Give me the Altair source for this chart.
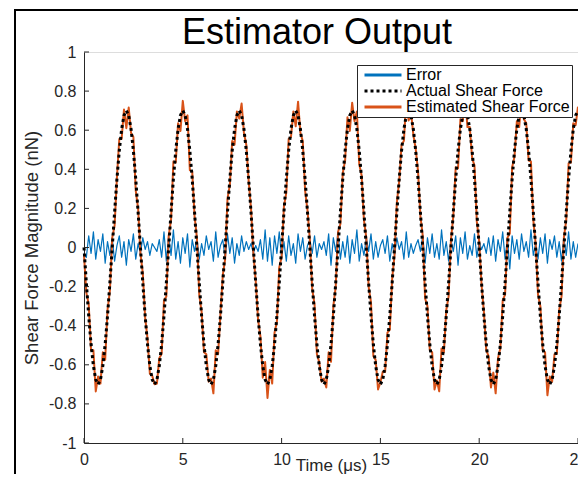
import altair as alt
import pandas as pd

# ---- data ----
time_us = [
    0.000, 0.119, 0.238, 0.357, 0.476, 0.595, 0.714, 0.833, 0.952, 1.071, 1.190, 1.310,
    1.429, 1.548, 1.667, 1.786, 1.905, 2.024, 2.143, 2.262, 2.381, 2.500, 2.619, 2.738,
    2.857, 2.976, 3.095, 3.214, 3.333, 3.452, 3.571, 3.690, 3.810, 3.929, 4.048, 4.167,
    4.286, 4.405, 4.524, 4.643, 4.762, 4.881, 5.000, 5.119, 5.238, 5.357, 5.476, 5.595,
    5.714, 5.833, 5.952, 6.071, 6.190, 6.310, 6.429, 6.548, 6.667, 6.786, 6.905, 7.024,
    7.143, 7.262, 7.381, 7.500, 7.619, 7.738, 7.857, 7.976, 8.095, 8.214, 8.333, 8.452,
    8.571, 8.690, 8.810, 8.929, 9.048, 9.167, 9.286, 9.405, 9.524, 9.643, 9.762, 9.881,
    10.000, 10.119, 10.238, 10.357, 10.476, 10.595, 10.714, 10.833, 10.952, 11.071, 11.190, 11.310,
    11.429, 11.548, 11.667, 11.786, 11.905, 12.024, 12.143, 12.262, 12.381, 12.500, 12.619, 12.738,
    12.857, 12.976, 13.095, 13.214, 13.333, 13.452, 13.571, 13.690, 13.810, 13.929, 14.048, 14.167,
    14.286, 14.405, 14.524, 14.643, 14.762, 14.881, 15.000, 15.119, 15.238, 15.357, 15.476, 15.595,
    15.714, 15.833, 15.952, 16.071, 16.190, 16.310, 16.429, 16.548, 16.667, 16.786, 16.905, 17.024,
    17.143, 17.262, 17.381, 17.500, 17.619, 17.738, 17.857, 17.976, 18.095, 18.214, 18.333, 18.452,
    18.571, 18.690, 18.810, 18.929, 19.048, 19.167, 19.286, 19.405, 19.524, 19.643, 19.762, 19.881,
    20.000, 20.119, 20.238, 20.357, 20.476, 20.595, 20.714, 20.833, 20.952, 21.071, 21.190, 21.310,
    21.429, 21.548, 21.667, 21.786, 21.905, 22.024, 22.143, 22.262, 22.381, 22.500, 22.619, 22.738,
    22.857, 22.976, 23.095, 23.214, 23.333, 23.452, 23.571, 23.690, 23.810, 23.929, 24.048, 24.167,
    24.286, 24.405, 24.524, 24.643, 24.762, 24.881, 25.000,
]

actual_force = [
    0, -0.181, -0.35, -0.495, -0.606, -0.676, -0.7, -0.676, -0.606, -0.495, -0.35, -0.181,
    0, 0.181, 0.35, 0.495, 0.606, 0.676, 0.7, 0.676, 0.606, 0.495, 0.35, 0.181,
    0, -0.181, -0.35, -0.495, -0.606, -0.676, -0.7, -0.676, -0.606, -0.495, -0.35, -0.181,
    0, 0.181, 0.35, 0.495, 0.606, 0.676, 0.7, 0.676, 0.606, 0.495, 0.35, 0.181,
    0, -0.181, -0.35, -0.495, -0.606, -0.676, -0.7, -0.676, -0.606, -0.495, -0.35, -0.181,
    0, 0.181, 0.35, 0.495, 0.606, 0.676, 0.7, 0.676, 0.606, 0.495, 0.35, 0.181,
    0, -0.181, -0.35, -0.495, -0.606, -0.676, -0.7, -0.676, -0.606, -0.495, -0.35, -0.181,
    0, 0.181, 0.35, 0.495, 0.606, 0.676, 0.7, 0.676, 0.606, 0.495, 0.35, 0.181,
    0, -0.181, -0.35, -0.495, -0.606, -0.676, -0.7, -0.676, -0.606, -0.495, -0.35, -0.181,
    0, 0.181, 0.35, 0.495, 0.606, 0.676, 0.7, 0.676, 0.606, 0.495, 0.35, 0.181,
    0, -0.181, -0.35, -0.495, -0.606, -0.676, -0.7, -0.676, -0.606, -0.495, -0.35, -0.181,
    0, 0.181, 0.35, 0.495, 0.606, 0.676, 0.7, 0.676, 0.606, 0.495, 0.35, 0.181,
    0, -0.181, -0.35, -0.495, -0.606, -0.676, -0.7, -0.676, -0.606, -0.495, -0.35, -0.181,
    0, 0.181, 0.35, 0.495, 0.606, 0.676, 0.7, 0.676, 0.606, 0.495, 0.35, 0.181,
    0, -0.181, -0.35, -0.495, -0.606, -0.676, -0.7, -0.676, -0.606, -0.495, -0.35, -0.181,
    0, 0.181, 0.35, 0.495, 0.606, 0.676, 0.7, 0.676, 0.606, 0.495, 0.35, 0.181,
    0, -0.181, -0.35, -0.495, -0.606, -0.676, -0.7, -0.676, -0.606, -0.495, -0.35, -0.181,
    0, 0.181, 0.35, 0.495, 0.606, 0.676, 0.7,
]

error_force = [
    -0.04, -0.05, 0.06, -0.03, 0.08, -0.06, 0.04, -0.02, 0.07, -0.08, 0.03, -0.04,
    0.05, -0.07, 0.01, 0.06, -0.05, 0.03, -0.09, 0.04, -0.02, 0.07, -0.06, 0.02,
    -0.03, 0.05, -0.01, 0.03, -0.04, 0.02, 0.00, -0.02, 0.04, -0.05, 0.08, -0.07,
    0.06, -0.04, 0.09, -0.06, 0.03, -0.08, 0.05, -0.03, 0.07, -0.10, 0.04, -0.02,
    0.05, -0.06, 0.02, -0.04, 0.06, -0.01, 0.03, -0.07, 0.08, -0.05, 0.01, 0.04,
    -0.06, 0.07, -0.03, 0.05, -0.08, 0.02, -0.04, 0.06, -0.02, 0.03, -0.01, 0.02,
    -0.03, 0.01, -0.02, 0.04, -0.06, 0.09, -0.07, 0.05, -0.09, 0.06, -0.03, 0.08,
    -0.05, 0.03, -0.07, 0.06, -0.04, 0.02, -0.08, 0.07, -0.02, 0.05, -0.06, 0.01,
    0.04, -0.03, 0.06, -0.05, 0.02, -0.01, 0.03, -0.04, 0.07, -0.09, 0.05, -0.02,
    0.08, -0.06, 0.03, -0.05, 0.06, -0.08, 0.04, -0.03, 0.09, -0.07, 0.02, -0.04,
    0.05, -0.02, 0.07, -0.06, 0.03, -0.05, 0.01, 0.04, -0.03, 0.06, -0.07, 0.02,
    -0.04, 0.05, -0.01, 0.03, -0.06, 0.08, -0.05, 0.02, -0.03, 0.01, 0.04, -0.02,
    0.06, -0.08, 0.05, -0.03, 0.07, -0.05, 0.02, -0.06, 0.09, -0.04, 0.03, -0.07,
    0.04, -0.02, 0.06, -0.09, 0.05, -0.03, 0.08, -0.06, 0.01, -0.04, 0.07, -0.05,
    0.03, -0.01, 0.02, -0.03, 0.05, -0.04, 0.06, -0.07, 0.04, -0.02, 0.08, -0.06,
    0.05, -0.11, 0.06, -0.03, 0.04, -0.06, 0.07, -0.02, 0.03, -0.05, 0.09, -0.04,
    0.02, -0.06, 0.05, -0.03, 0.07, -0.08, 0.04, -0.01, 0.06, -0.05, 0.03, -0.07,
    0.05, -0.04, 0.08, -0.06, 0.03, -0.05, 0.02,
]

x_ticks = [0, 5, 10, 15, 20, 25]
y_ticks = [-1, -0.8, -0.6, -0.4, -0.2, 0, 0.2, 0.4, 0.6, 0.8, 1]
series_names = ["Error", "Actual Shear Force", "Estimated Shear Force"]
series_colors = ["#0072BD", "#000000", "#D95319"]
series_dashes = [[1, 0], [3, 3], [1, 0]]
chart_title = "Estimator Output"

# ---- long table built from the lists ----
rows = []
for t, a, e in zip(time_us, actual_force, error_force):
    rows.append({"t": t, "v": e, "series": "Error"})
    rows.append({"t": t, "v": a, "series": "Actual Shear Force"})
    rows.append({"t": t, "v": round(a + e, 3), "series": "Estimated Shear Force"})
df = pd.DataFrame(rows)

FONT = "Liberation Sans"
TXT = "#262626"
W, H = 494, 391
PAD_BOTTOM = 31

xs = alt.Scale(domain=[0, 25], nice=False, zero=False)
ys = alt.Scale(domain=[-1, 1], nice=False, zero=False)

x_axis = alt.Axis(values=x_ticks, title="Time (μs)", grid=False, tickSize=0, ticks=False,
                  labelFontSize=16, titleFontSize=17, labelPadding=8,
                  titleY=27, titleBaseline="alphabetic",
                  labelFont=FONT, titleFont=FONT, titleFontWeight="normal",
                  domainColor=TXT, labelColor=TXT, titleColor=TXT, domainWidth=1,
                  labelFlush=False, labelOverlap=False)
y_axis = alt.Axis(values=y_ticks, title="Shear Force Magnitude (nN)", grid=False, tickSize=0, ticks=False,
                  labelFontSize=16, titleFontSize=18.5, labelPadding=8,
                  titleX=-47, titleBaseline="alphabetic",
                  labelFont=FONT, titleFont=FONT, titleFontWeight="normal",
                  domainColor=TXT, labelColor=TXT, titleColor=TXT, domainWidth=1,
                  labelFlush=False, labelOverlap=False,
                  labelExpr="datum.value < 0 ? '-' + format(-datum.value, '~g') : format(datum.value, '~g')")

leg = alt.Legend(orient="none", legendX=273, legendY=13, title=None,
                 symbolType="M-3,0H3", symbolSize=152, symbolStrokeWidth=3,
                 symbolFillColor="transparent", symbolOffset=16,
                 labelFontSize=16, labelFont=FONT, labelColor="#000000", labelOffset=15,
                 labelLimit=0, rowPadding=0, padding=2,
                 strokeColor=TXT, fillColor="white", cornerRadius=0)

color = alt.Color("series:N", scale=alt.Scale(domain=series_names, range=series_colors), legend=leg)
dash = alt.StrokeDash("series:N", scale=alt.Scale(domain=series_names, range=series_dashes), legend=leg)


def series_layer(name, width):
    return alt.Chart(df).transform_filter(alt.datum.series == name).mark_line(
        strokeWidth=width, strokeJoin="round", strokeCap="butt"
    ).encode(
        x=alt.X("t:Q", scale=xs, axis=x_axis),
        y=alt.Y("v:Q", scale=ys, axis=y_axis),
        color=color,
        strokeDash=dash,
    )


err_layer = series_layer("Error", 1.2)
est_layer = series_layer("Estimated Shear Force", 2)
act_layer = series_layer("Actual Shear Force", 3)

# inward-pointing tick marks (MATLAB style), placed by the scales
xtick_layer = alt.Chart(pd.DataFrame({"t": x_ticks})).mark_rule(color=TXT, strokeWidth=1).encode(
    x=alt.X("t:Q", scale=xs, axis=x_axis), y=alt.value(H), y2=alt.value(H - 5))
ytick_layer = alt.Chart(pd.DataFrame({"v": y_ticks})).mark_rule(color=TXT, strokeWidth=1).encode(
    y=alt.Y("v:Q", scale=ys, axis=y_axis), x=alt.value(0), x2=alt.value(5))

# figure frame lines (top and left edge of the figure window) and the title
frame_df = pd.DataFrame({"k": [0]})
frame_left = alt.Chart(frame_df).mark_rule(color="black", strokeWidth=2).encode(
    x=alt.value(-69), y=alt.value(-42), y2=alt.value(H + PAD_BOTTOM))
frame_top = alt.Chart(frame_df).mark_rule(color="black", strokeWidth=2).encode(
    y=alt.value(-42), x=alt.value(-70), x2=alt.value(W + 10))
title_layer = alt.Chart(pd.DataFrame({"title": [chart_title]})).mark_text(
    font=FONT, fontSize=36, color="#000000", align="center", baseline="alphabetic"
).encode(text="title:N", x=alt.value(233), y=alt.value(-8))

chart = alt.layer(
    err_layer, est_layer, act_layer, xtick_layer, ytick_layer, frame_left, frame_top, title_layer
).properties(
    width=W, height=H,
    autosize=alt.AutoSizeParams(type="none"),
    padding={"left": 76, "top": 44, "right": 0, "bottom": PAD_BOTTOM},
).configure_view(stroke=None).configure(background="white")

chart.save("out.html", embed_options={"renderer": "svg", "actions": False})
